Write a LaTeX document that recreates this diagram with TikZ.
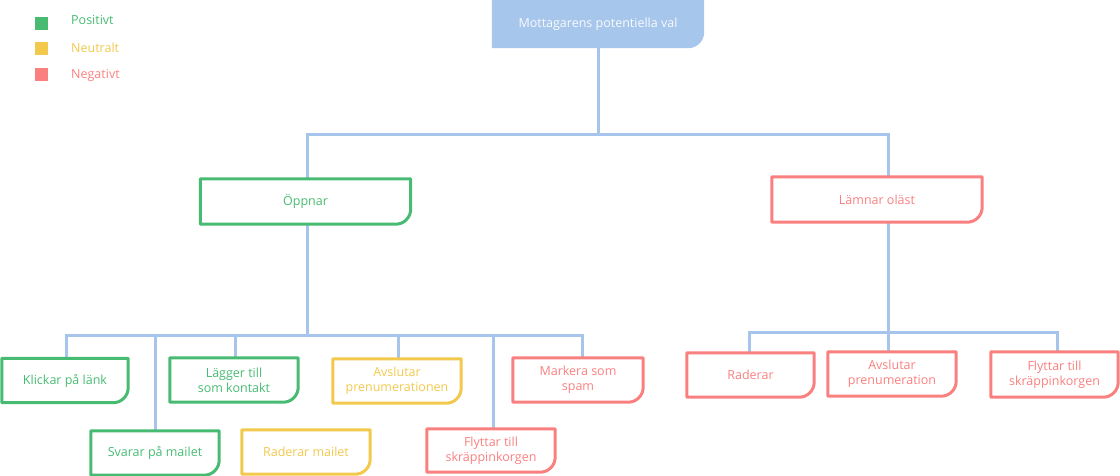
\documentclass[tikz,border=0pt]{standalone}
\usepackage{fontspec}
\setmainfont{Open Sans}
\definecolor{cgreen}{HTML}{47BB72}
\definecolor{cyellow}{HTML}{F2C94C}
\definecolor{cred}{HTML}{FA8080}
\definecolor{cblue}{HTML}{A6C4EC}
\definecolor{ctop}{HTML}{A7C6EC}
\newcommand\mkoutline[3]{%
  \path[#2] (#1.north west) -- (#1.north east) -- ([yshift=#3]#1.south east)
    .. controls ([yshift=0.45*#3]#1.south east) and ([xshift=-0.45*#3]#1.south east) ..
    ([xshift=-#3]#1.south east) -- (#1.south west) -- cycle;}
\begin{document}
\begin{tikzpicture}[x=1pt,y=-1pt,
  box/.style={rectangle, inner sep=0pt, minimum width=128pt, minimum height=44pt,
    align=center, font=\fontsize{12.5pt}{15pt}\selectfont},
  conn/.style={draw=cblue, line width=3pt},
  outl/.style={line width=3pt, line join=round},
  gbox/.style={box, text=cgreen},
  ybox/.style={box, text=cyellow},
  rbox/.style={box, text=cred},
  legsq/.style={rectangle, inner sep=0pt, minimum size=13pt},
  legtx/.style={anchor=west, inner sep=0pt, font=\fontsize{12.5pt}{13pt}\selectfont}]
\useasboundingbox (0,0) rectangle (1120,476);
% legend
\node[legsq, fill=cgreen] (lg) at (41.5,24) {};
\node[legsq, fill=cyellow] (ly) at (41.5,48.5) {};
\node[legsq, fill=cred] (lr) at (41.5,75) {};
\node[legtx, text=cgreen] (lgt) at (71,20) {Positivt};
\node[legtx, text=cyellow] (lyt) at (71,48) {Neutralt};
\node[legtx, text=cred] (lrt) at (71,75) {Negativt};
% nodes
\node[box, minimum width=212pt, minimum height=48pt] (top) at (598,24) {};
\mkoutline{top}{fill=ctop}{16pt}
\node[box, text=white!92!ctop] at (top) {Mottagarens potentiella val};
\node[gbox, minimum width=210pt, minimum height=45pt] (opp) at (305.5,201.5) {Öppnar};
\node[rbox, minimum width=210pt, minimum height=45pt] (lam) at (877,199.5) {Lämnar oläst};
\node[gbox, minimum width=126pt] (klick) at (65,380.5) {Klickar på länk};
\node[gbox] (lagger) at (234,380) {Lägger till\\som kontakt};
\node[gbox] (svarar) at (155,453) {Svarar på mailet};
\node[ybox] (radm) at (306,452) {Raderar mailet};
\node[ybox] (avsl) at (397,381) {Avslutar\\prenumerationen};
\node[rbox, minimum width=130pt] (mark) at (578,380) {Markera som\\spam};
\node[rbox, minimum height=43pt] (flytt) at (491,450.5) {Flyttar till\\skräppinkorgen};
\node[rbox, minimum width=127pt] (rad) at (750.5,375) {Raderar};
\node[rbox] (avsl2) at (892,374) {Avslutar\\prenumeration};
\node[rbox, minimum width=127pt, minimum height=45pt] (flytt2) at (1054.5,374.5) {Flyttar till\\skräppinkorgen};
% junctions
\coordinate (h1) at (307,135);
\coordinate (h2) at (888,135);
\coordinate (hm) at (598,135);
\coordinate (b0) at (307,335);
\coordinate (b1) at (66,335);
\coordinate (b2) at (582,335);
\coordinate (r0) at (888,332);
\coordinate (r1) at (749,332);
\coordinate (r2) at (1057,332);
% connectors
\draw[conn] (top.south) -- (hm);
\draw[conn] (opp.north -| h1) -- (h1) -- (h2) -- (lam.north -| h2);
\draw[conn] (opp.south -| b0) -- (b0);
\draw[conn] (klick.north -| b1) -- (b1) -- (b2) -- (mark.north -| b2);
\draw[conn] (svarar.north -| 155,0) -- (155,335);
\draw[conn] (lagger.north -| 235,0) -- (235,335);
\draw[conn] (avsl.north -| 398,0) -- (398,335);
\draw[conn] (flytt.north -| 493,0) -- (493,335);
\draw[conn] (lam.south -| r0) -- (r0);
\draw[conn] (rad.north -| r1) -- (r1) -- (r2) -- (flytt2.north -| r2);
\draw[conn] (avsl2.north -| r0) -- (r0);
% outlines
\mkoutline{opp}{draw=cgreen, outl}{15pt}
\mkoutline{lam}{draw=cred, outl}{15pt}
\mkoutline{klick}{draw=cgreen, outl}{15pt}
\mkoutline{lagger}{draw=cgreen, outl}{15pt}
\mkoutline{svarar}{draw=cgreen, outl}{15pt}
\mkoutline{radm}{draw=cyellow, outl}{15pt}
\mkoutline{avsl}{draw=cyellow, outl}{15pt}
\mkoutline{mark}{draw=cred, outl}{15pt}
\mkoutline{flytt}{draw=cred, outl}{15pt}
\mkoutline{rad}{draw=cred, outl}{15pt}
\mkoutline{avsl2}{draw=cred, outl}{15pt}
\mkoutline{flytt2}{draw=cred, outl}{15pt}
\end{tikzpicture}
\end{document}
